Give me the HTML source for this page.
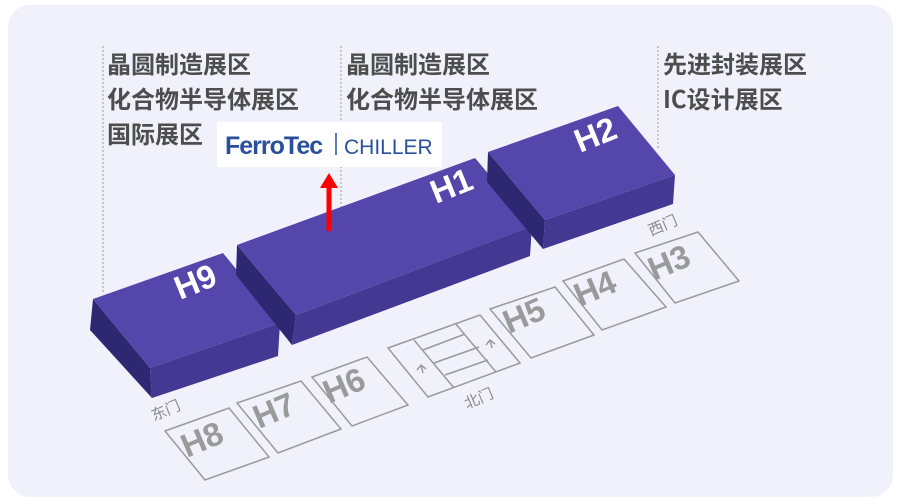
<!DOCTYPE html>
<html><head><meta charset="utf-8"><style>
html,body{margin:0;padding:0;background:#fff;}
body{width:901px;height:504px;position:relative;overflow:hidden;font-family:"Liberation Sans","Noto Sans CJK SC",sans-serif;}
.card{position:absolute;left:8px;top:5px;width:885px;height:492px;background:#f1f1fc;border-radius:22px;}
.t{position:absolute;font-size:24px;line-height:35px;color:#4d4d4d;font-weight:bold;font-family:"Noto Sans CJK SC","WenQuanYi Zen Hei",sans-serif;}
</style></head><body>
<div class="card"></div>
<div class="t" style="left:107px;top:45px">晶圆制造展区<br>化合物半导体展区<br>国际展区</div>
<div class="t" style="left:346px;top:45px">晶圆制造展区<br>化合物半导体展区</div>
<div class="t" style="left:663px;top:45px">先进封装展区<br>IC设计展区</div>
<svg width="901" height="504" style="position:absolute;left:0;top:0" font-family="Liberation Sans, sans-serif">
<g stroke="#999" stroke-width="1" stroke-dasharray="2,2">
<line x1="103" y1="46" x2="103" y2="292"/>
<line x1="341" y1="46" x2="341" y2="208"/>
<line x1="658" y1="46" x2="658" y2="150"/>
</g>
<polygon points="93,299 150,368 152,398 90,330" fill="#2e2872"/>
<polygon points="150,368 280,323 278,356 152,398" fill="#433892"/>
<polygon points="93,299 223,253 280,323 150,368" fill="#5546ab"/>
<polygon points="237,245 296,315 292,345 236,275" fill="#2e2872"/>
<polygon points="296,315 532,226 530,256 292,345" fill="#433892"/>
<polygon points="237,245 475,158 532,226 296,315" fill="#5546ab"/>
<polygon points="488,152 545,220 543,249 487,182" fill="#2e2872"/>
<polygon points="545,220 675,175 673,204 543,249" fill="#433892"/>
<polygon points="488,152 618,106 675,175 545,220" fill="#5546ab"/>
<g fill="#fff" font-weight="bold" font-size="33">
<text transform="translate(180,300) rotate(-22)">H9</text>
<text transform="translate(436,204) rotate(-22)">H1</text>
<text transform="translate(580,153) rotate(-22)">H2</text>
</g>
<g fill="none" stroke="#9a9a9a" stroke-width="1.5">
<polygon points="165,431 229,408 269,457 205,480"/>
<polygon points="237,403 301,381 341,429 278,453"/>
<polygon points="312,377 367,357 408,405 352,426"/>
<polygon points="388,348 480,315 520,363 428,397"/>
<line x1="414" y1="340" x2="454" y2="388"/>
<line x1="455" y1="323" x2="496" y2="372"/>
<line x1="423" y1="350" x2="465" y2="334"/>
<line x1="434" y1="363" x2="479" y2="347"/>
<line x1="445" y1="375" x2="488" y2="360"/>
<polyline points="417,370 421,365 426,369"/>
<line x1="421" y1="365" x2="423" y2="373"/>
<polyline points="486,345 490,340 495,344"/>
<line x1="490" y1="340" x2="492" y2="348"/>
<polygon points="490,309 555,287 594,335 531,358"/>
<polygon points="563,281 624,259 666,307 602,330"/>
<polygon points="635,253 698,232 739,281 675,303"/>
</g>
<g fill="#9a9a9a" font-weight="bold" font-size="33">
<text transform="translate(187,458) rotate(-23)">H8</text>
<text transform="translate(259,429) rotate(-23)">H7</text>
<text transform="translate(329,404) rotate(-23)">H6</text>
<text transform="translate(509,334) rotate(-23)">H5</text>
<text transform="translate(580,307) rotate(-23)">H4</text>
<text transform="translate(654,281) rotate(-23)">H3</text>
</g>
<g fill="#8a8a8a" font-size="15" font-family="Noto Sans CJK SC, sans-serif">
<text transform="translate(154,421) rotate(-23)">东门</text>
<text transform="translate(467,409) rotate(-23)">北门</text>
<text transform="translate(651,236) rotate(-23)">西门</text>
</g>
<rect x="217" y="122" width="225" height="45" fill="#fff"/>
<text x="225" y="154" font-size="25" font-weight="bold" fill="#2a4f9d" letter-spacing="-1">FerroTec</text>
<line x1="336" y1="133" x2="336" y2="155" stroke="#2a4f9d" stroke-width="1.5"/>
<text x="344" y="154" font-size="21" fill="#2a4f9d">CHILLER</text>
<line x1="329" y1="231" x2="329" y2="186" stroke="#f00" stroke-width="5"/>
<polygon points="320,188 338,188 329,173" fill="#f00"/>
</svg>
</body></html>
